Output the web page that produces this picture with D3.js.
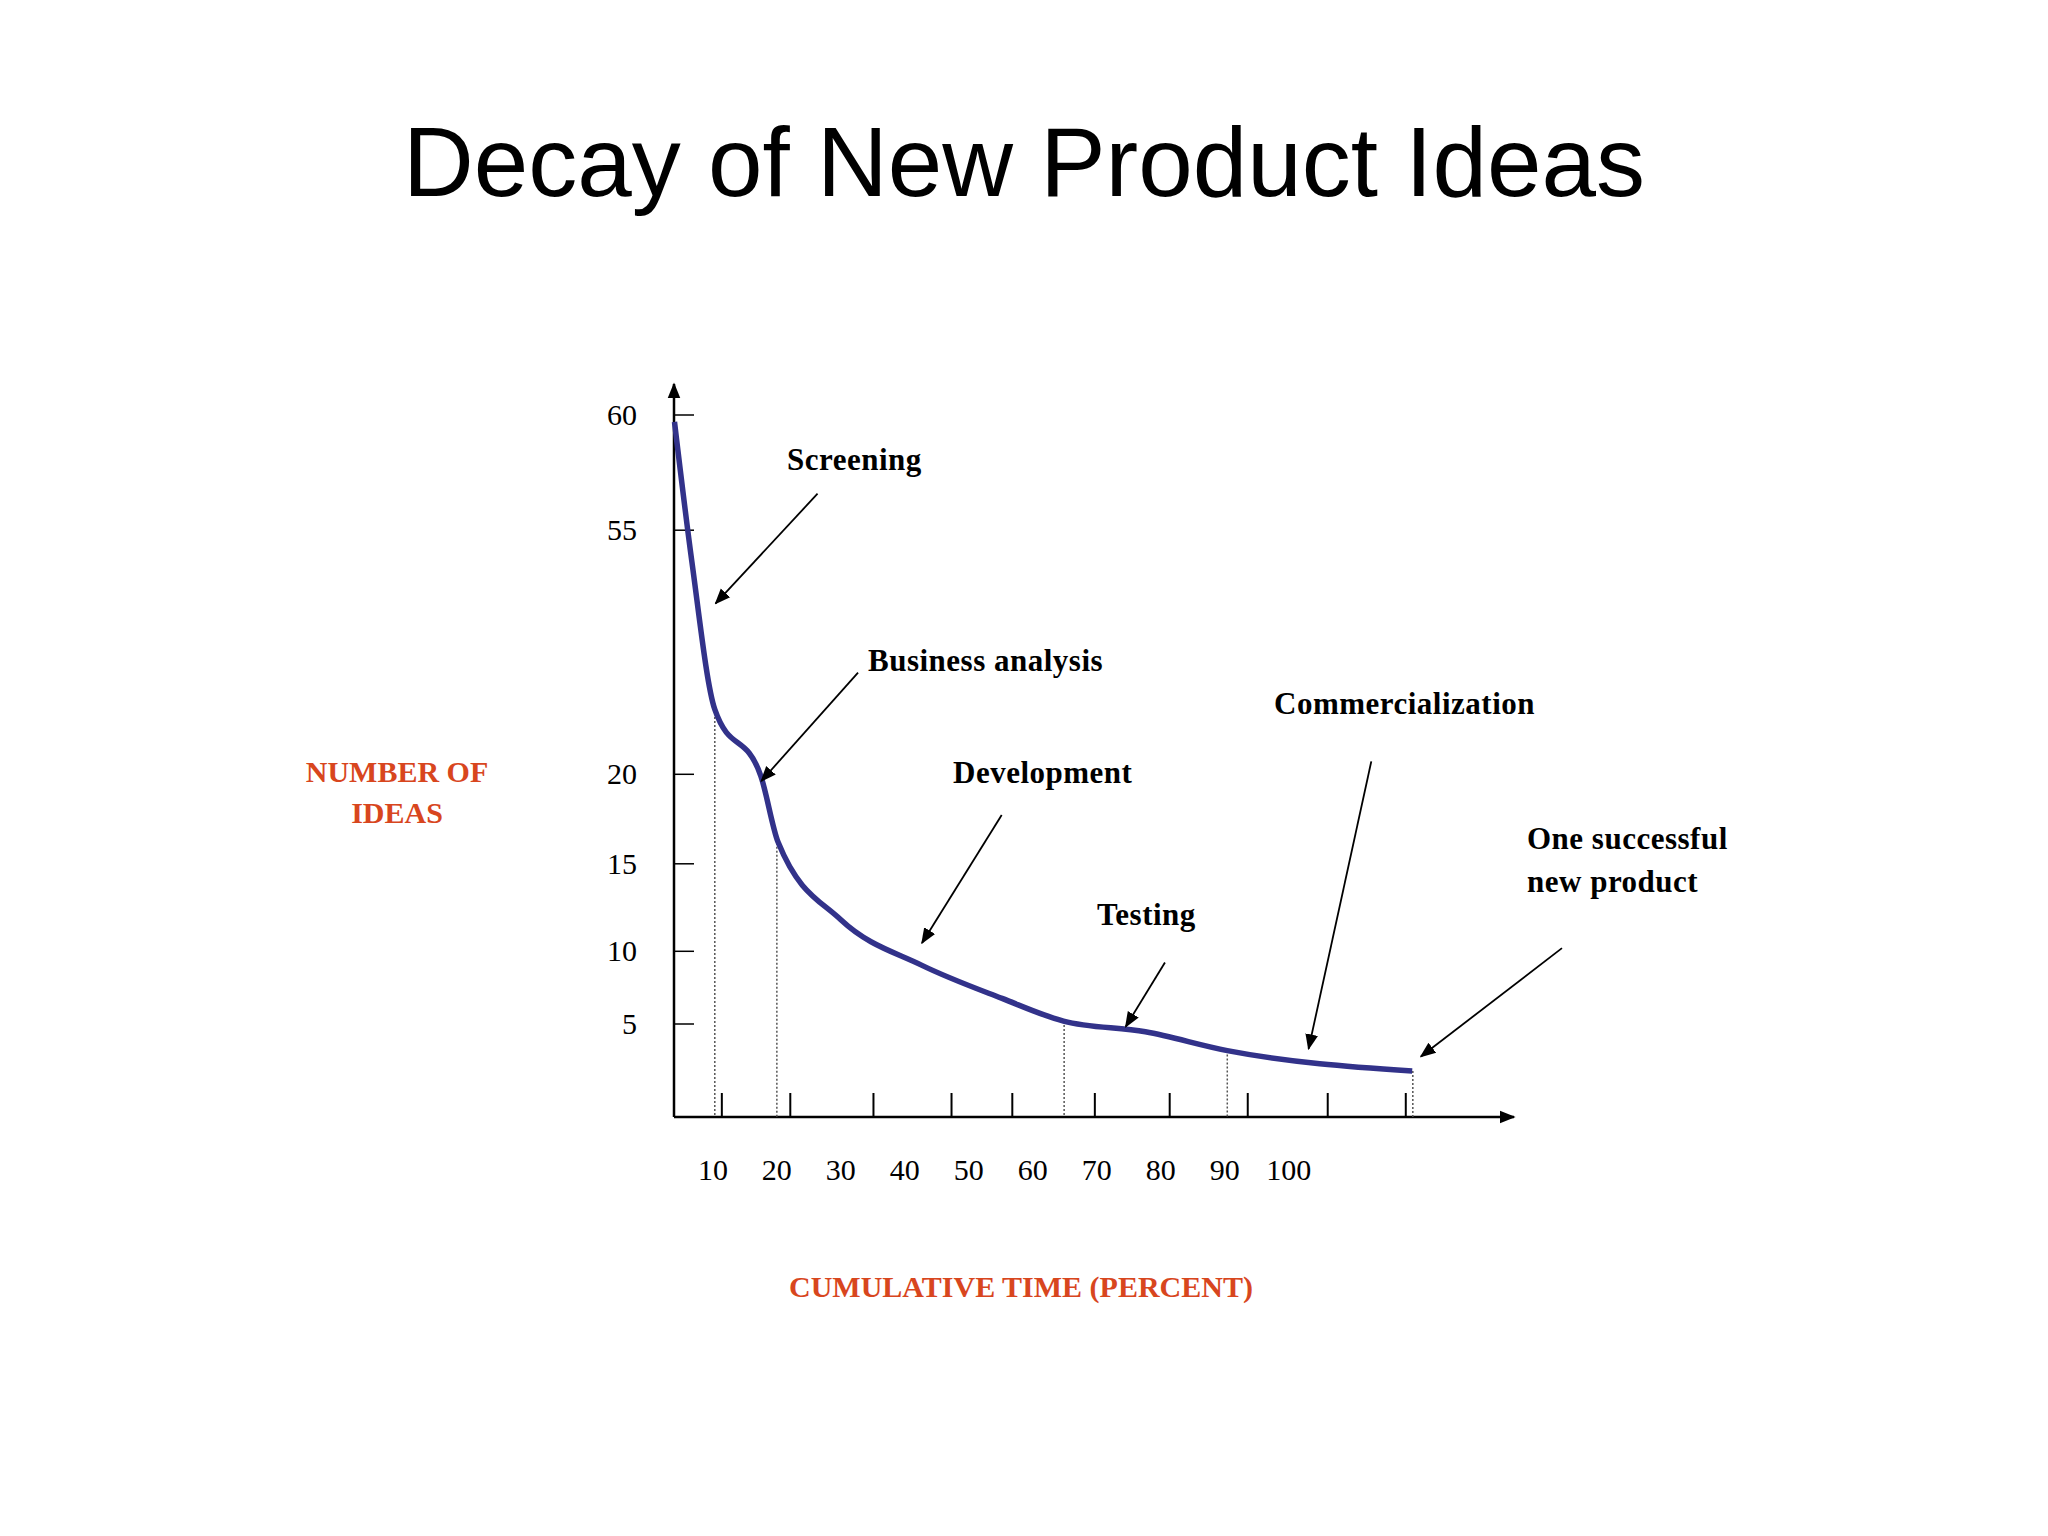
<!DOCTYPE html>
<html>
<head>
<meta charset="utf-8">
<script src="https://cdn.jsdelivr.net/npm/d3@7"></script>
<style>
  body { margin: 0; background: #fff; }
  text { font-family: "Liberation Serif", "Times New Roman", serif; }
</style>
</head>
<body>
<svg id="chart" width="2048" height="1536"></svg>
<script>
// curve: cumulative time (%) vs number of ideas
const timePct = [4, 6.7, 10.3, 17.5, 20.2, 30, 42.6, 55.2, 64.8, 77.6, 90.4, 119.3]
const ideas = [59.7, 50.6, 29.3, 19.9, 16.2, 11.8, 9.05, 6.76, 5.2, 4.58, 3.57, 2.47]

const yTicks = [5, 10, 15, 20, 55, 60]
const xLabels = [10, 20, 30, 40, 50, 60, 70, 80, 90, 100]
// tick marks are not on the labels in the original
const xTickMarks = [11.4, 22.1, 35.1, 47.3, 56.8, 69.7, 81.4, 93.6, 106.1, 118.3]
const dropX = [10.3, 20, 64.9, 90.4, 119.4]
const dropY = [28.8, 16.4, 5.2, 3.57, 2.47]

const stages = ['Screening', 'Business analysis', 'Development', 'Testing', 'Commercialization']

const svg = d3.select('#chart')

// broken y axis: 20 -> 55 squeezed
const y = d3.scaleLinear()
  .domain([0, 5, 10, 15, 20, 55, 60])
  .range([1117, 1024, 951.3, 863.8, 774.3, 530.2, 415])
const x = d3.scaleLinear().domain([0, 100]).range([648.9, 1288.7])
const x0 = 674

svg.append('defs').append('marker')
  .attr('id', 'ah').attr('viewBox', '0 0 10 10').attr('refX', 9).attr('refY', 5)
  .attr('markerWidth', 10).attr('markerHeight', 10).attr('markerUnits', 'userSpaceOnUse')
  .attr('orient', 'auto')
  .append('path').attr('d', 'M0,0 L10,5 L0,10 Z').attr('fill', '#000')

svg.append('defs').append('marker')
  .attr('id', 'ah2').attr('viewBox', '0 0 10 10').attr('refX', 9).attr('refY', 5)
  .attr('markerWidth', 16).attr('markerHeight', 16).attr('markerUnits', 'userSpaceOnUse')
  .attr('orient', 'auto')
  .append('path').attr('d', 'M0,1 L10,5 L0,9 Z').attr('fill', '#000')

svg.append('text').attr('x', 1024).attr('y', 196).attr('text-anchor', 'middle')
  .style('font-family', '"Liberation Sans", Arial, sans-serif').style('font-size', '98px')
  .text('Decay of New Product Ideas')

// axes
svg.append('line').attr('x1', x0).attr('y1', y(0)).attr('x2', x0).attr('y2', 384)
  .attr('stroke', '#000').attr('stroke-width', 2.5).attr('marker-end', 'url(#ah2)')
svg.append('line').attr('x1', x0).attr('y1', y(0)).attr('x2', 1514).attr('y2', y(0))
  .attr('stroke', '#000').attr('stroke-width', 2.5).attr('marker-end', 'url(#ah2)')

svg.selectAll('.yt').data(yTicks).join('line')
  .attr('x1', x0).attr('x2', x0 + 20).attr('y1', d => y(d)).attr('y2', d => y(d))
  .attr('stroke', '#000').attr('stroke-width', 1.5)
svg.selectAll('.yl').data(yTicks).join('text')
  .attr('x', 637).attr('y', d => y(d) + 10).attr('text-anchor', 'end')
  .style('font-size', '30px').text(d => d)

svg.selectAll('.xt').data(xTickMarks).join('line')
  .attr('x1', d => x(d)).attr('x2', d => x(d)).attr('y1', y(0)).attr('y2', y(0) - 24)
  .attr('stroke', '#000').attr('stroke-width', 2)
svg.selectAll('.xl').data(xLabels).join('text')
  .attr('x', d => x(d)).attr('y', 1180).attr('text-anchor', 'middle')
  .style('font-size', '30px').text(d => d)

// dotted drops from curve
svg.selectAll('.drop').data(dropX).join('line')
  .attr('x1', d => x(d)).attr('x2', d => x(d))
  .attr('y1', (d, i) => y(dropY[i])).attr('y2', y(0))
  .attr('stroke', '#555').attr('stroke-width', 1.5).attr('stroke-dasharray', '2,2')

const pts = timePct.map((t, i) => [t, ideas[i]])
svg.append('path').datum(pts)
  .attr('d', d3.line().x(d => x(d[0])).y(d => y(d[1])).curve(d3.curveMonotoneX))
  .attr('fill', 'none').attr('stroke', '#32328a').attr('stroke-width', 5.5)

// annotations: label position and arrow in page pixels
const s = 1.306
const notes = [
  { lines: [stages[0]], tx: 787, ty: 470, a: [626, 378, 548, 462] },
  { lines: [stages[1]], tx: 868, ty: 671, a: [657, 515, 583, 598] },
  { lines: [stages[2]], tx: 953, ty: 783, a: [767, 624, 706, 722] },
  { lines: [stages[3]], tx: 1097, ty: 925, a: [892, 737, 862, 786] },
  { lines: [stages[4]], tx: 1274, ty: 714, a: [1050, 583, 1002, 803] },
  { lines: ['One successful', 'new product'], tx: 1527, ty: 849, a: [1196, 726, 1088, 809] }
]
notes.forEach(n => {
  const t = svg.append('text').attr('x', n.tx).attr('y', n.ty)
    .style('font-size', '31px').style('font-weight', 'bold').style('letter-spacing', '0.5px')
  n.lines.forEach((l, i) => t.append('tspan').attr('x', n.tx).attr('dy', i ? 43 : 0).text(l))
  svg.append('line')
    .attr('x1', n.a[0] * s).attr('y1', n.a[1] * s).attr('x2', n.a[2] * s).attr('y2', n.a[3] * s)
    .attr('stroke', '#000').attr('stroke-width', 1.8).attr('marker-end', 'url(#ah2)')
})

const red = '#d8461e'
const yt = svg.append('text').attr('text-anchor', 'middle').attr('fill', red)
  .style('font-size', '30px').style('font-weight', 'bold')
yt.append('tspan').attr('x', 397).attr('y', 782).text('NUMBER OF')
yt.append('tspan').attr('x', 397).attr('y', 823).text('IDEAS')
svg.append('text').attr('x', 1021).attr('y', 1297).attr('text-anchor', 'middle').attr('fill', red)
  .style('font-size', '30px').style('font-weight', 'bold').text('CUMULATIVE TIME (PERCENT)')
</script>
</body>
</html>
